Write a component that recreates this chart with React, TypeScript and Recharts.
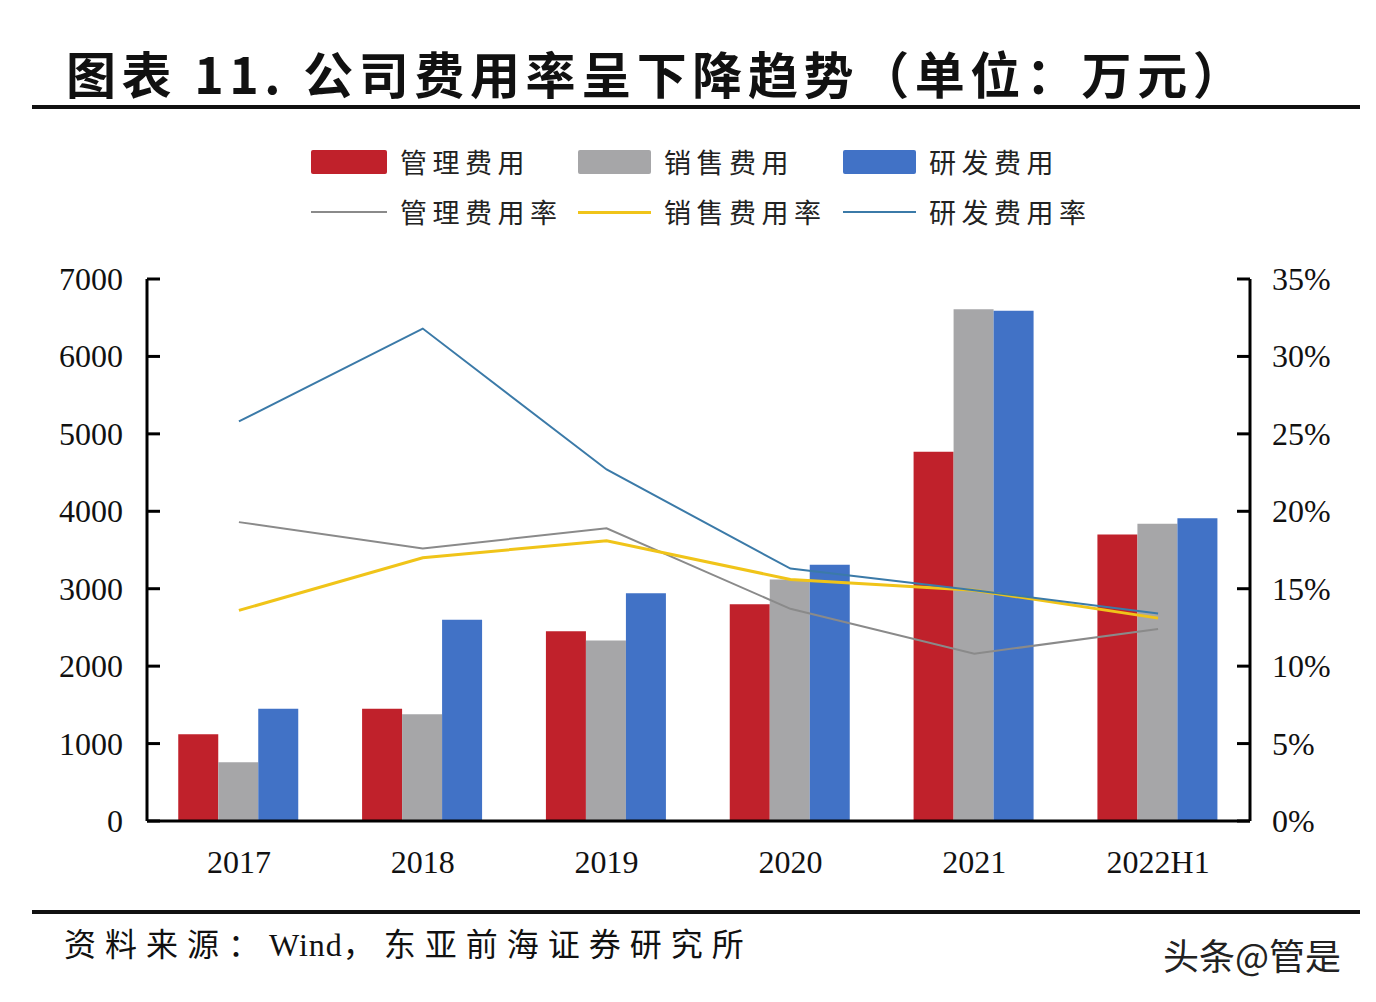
import React from 'react';
import { ComposedChart, Bar, Line, XAxis, YAxis } from 'recharts';

const categories = ['2017', '2018', '2019', '2020', '2021', '2022H1'];
const mgmtCost = [1120, 1450, 2450, 2800, 4770, 3700];
const salesCost = [760, 1380, 2330, 3120, 6610, 3840];
const rdCost = [1450, 2600, 2940, 3310, 6590, 3910];
const mgmtRate = [19.3, 17.6, 18.9, 13.7, 10.8, 12.4];
const salesRate = [13.6, 17.0, 18.1, 15.6, 14.9, 13.1];
const rdRate = [25.8, 31.8, 22.7, 16.3, 14.9, 13.4];
const leftTicks = [0, 1000, 2000, 3000, 4000, 5000, 6000, 7000];
const rightTicks = [0, 5, 10, 15, 20, 25, 30, 35];

const data = categories.map((c, i) => ({
  name: c,
  mgmt: mgmtCost[i],
  sales: salesCost[i],
  rd: rdCost[i],
  mgmtRate: mgmtRate[i],
  salesRate: salesRate[i],
  rdRate: rdRate[i],
}));

const RED = '#C0212B';
const GRAY = '#A6A6A8';
const BLUE = '#4172C6';
const LGRAY = '#8A8A8A';
const YELLOW = '#F0C419';
const TEAL = '#3B7AA8';

const serif = '"Liberation Serif", "DejaVu Serif", serif';
const cjk = '"Noto Sans CJK SC", "Noto Sans", sans-serif';

const LeftTick = (props: any) => {
  const { x, y, payload } = props;
  return (
    <g>
      <line x1={x} x2={x + 13} y1={y} y2={y} stroke="#000" strokeWidth={3} />
      <text x={x - 24} y={y} textAnchor="end" dominantBaseline="central" fontFamily={serif} fontSize={32} fill="#111">
        {payload.value}
      </text>
    </g>
  );
};

const RightTick = (props: any) => {
  const { x, y, payload } = props;
  return (
    <g>
      <line x1={x - 13} x2={x} y1={y} y2={y} stroke="#000" strokeWidth={3} />
      <text x={x + 22} y={y} textAnchor="start" dominantBaseline="central" fontFamily={serif} fontSize={32} fill="#111">
        {payload.value + '%'}
      </text>
    </g>
  );
};

const BottomTick = (props: any) => {
  const { x, y, payload } = props;
  return (
    <text x={x} y={y + 41} textAnchor="middle" dominantBaseline="central" fontFamily={serif} fontSize={32} fill="#111">
      {payload.value}
    </text>
  );
};

const legendItems = [
  { label: '管理费用', kind: 'rect', color: RED, x: 311, row: 0, w: 24 },
  { label: '销售费用', kind: 'rect', color: GRAY, x: 578, row: 0, w: 24 },
  { label: '研发费用', kind: 'rect', color: BLUE, x: 843, row: 0, w: 24 },
  { label: '管理费用率', kind: 'line', color: LGRAY, x: 311, row: 1, w: 2 },
  { label: '销售费用率', kind: 'line', color: YELLOW, x: 578, row: 1, w: 3 },
  { label: '研发费用率', kind: 'line', color: TEAL, x: 843, row: 1, w: 2.5 },
];

const LegendBlock = () => (
  <div style={{ position: 'absolute', left: 0, top: 138, width: 1376, height: 100 }}>
    {legendItems.map((it, i) => {
      const cy = it.row === 0 ? 24 : 74;
      const sw = it.x === 311 ? 76 : 73;
      return (
        <div key={i}>
          <div
            style={{
              position: 'absolute',
              left: it.x,
              top: cy - it.w / 2,
              width: sw,
              height: it.w,
              background: it.color,
              borderRadius: it.kind === 'rect' ? 2 : 0,
            }}
          />
          <div
            style={{
              position: 'absolute',
              left: it.x + sw + 13,
              top: cy - 18,
              height: 36,
              lineHeight: '36px',
              fontFamily: cjk,
              fontSize: 27,
              letterSpacing: 5.5,
              color: '#222',
              whiteSpace: 'nowrap',
            }}
          >
            {it.label}
          </div>
        </div>
      );
    })}
  </div>
);

export default function App() {
  return (
    <div style={{ position: 'absolute', left: 0, top: 0, width: 1376, height: 1002, background: '#fff', overflow: 'hidden' }}>
      <div
        style={{
          position: 'absolute',
          left: 66,
          top: 40,
          fontFamily: cjk,
          fontWeight: 700,
          fontSize: 50,
          lineHeight: '64px',
          letterSpacing: 5.6,
          color: '#111',
          whiteSpace: 'nowrap',
        }}
      >
        图表 11. 公司费用率呈下降趋势（单位：万元）
      </div>
      <div style={{ position: 'absolute', left: 32, top: 105, width: 1328, height: 4, background: '#111' }} />

      <LegendBlock />

      <div style={{ position: 'absolute', left: 0, top: 0 }}>
        <ComposedChart
          width={1376}
          height={1002}
          data={data}
          margin={{ top: 279, right: 26, left: 47, bottom: 121 }}
          barCategoryGap="17%"
          barGap={0}
        >
          <XAxis
            dataKey="name"
            height={60}
            axisLine={{ stroke: '#000', strokeWidth: 3 }}
            tickLine={false}
            tickSize={0}
            tickMargin={0}
            tick={<BottomTick />}
            interval={0}
          />
          <YAxis
            yAxisId="left"
            width={100}
            domain={[0, 7000]}
            ticks={leftTicks}
            interval={0}
            axisLine={{ stroke: '#000', strokeWidth: 3 }}
            tickLine={false}
            tickSize={0}
            tickMargin={0}
            tick={<LeftTick />}
          />
          <YAxis
            yAxisId="right"
            orientation="right"
            width={100}
            domain={[0, 35]}
            ticks={rightTicks}
            interval={0}
            axisLine={{ stroke: '#000', strokeWidth: 3 }}
            tickLine={false}
            tickSize={0}
            tickMargin={0}
            tick={<RightTick />}
          />
          <Bar yAxisId="left" dataKey="mgmt" name="管理费用" fill={RED} isAnimationActive={false} />
          <Bar yAxisId="left" dataKey="sales" name="销售费用" fill={GRAY} isAnimationActive={false} />
          <Bar yAxisId="left" dataKey="rd" name="研发费用" fill={BLUE} isAnimationActive={false} />
          <Line yAxisId="right" type="linear" dataKey="mgmtRate" name="管理费用率" stroke={LGRAY} strokeWidth={2} dot={false} isAnimationActive={false} />
          <Line yAxisId="right" type="linear" dataKey="salesRate" name="销售费用率" stroke={YELLOW} strokeWidth={3} dot={false} isAnimationActive={false} />
          <Line yAxisId="right" type="linear" dataKey="rdRate" name="研发费用率" stroke={TEAL} strokeWidth={2} dot={false} isAnimationActive={false} />
        </ComposedChart>
      </div>

      <div style={{ position: 'absolute', left: 32, top: 910, width: 1328, height: 4, background: '#111' }} />
      <div
        style={{
          position: 'absolute',
          left: 64,
          top: 922,
          fontFamily: cjk,
          fontSize: 32,
          lineHeight: '40px',
          letterSpacing: 9,
          color: '#111',
          whiteSpace: 'nowrap',
        }}
      >
        资料来源：<span style={{ fontFamily: serif, letterSpacing: 1 }}>Wind</span>，东亚前海证券研究所
      </div>
      <div
        style={{
          position: 'absolute',
          left: 1163,
          top: 932,
          fontFamily: cjk,
          fontSize: 36,
          lineHeight: '44px',
          color: '#222',
          whiteSpace: 'nowrap',
          textShadow: '0 0 2px #fff',
        }}
      >
        头条@管是
      </div>
    </div>
  );
}
